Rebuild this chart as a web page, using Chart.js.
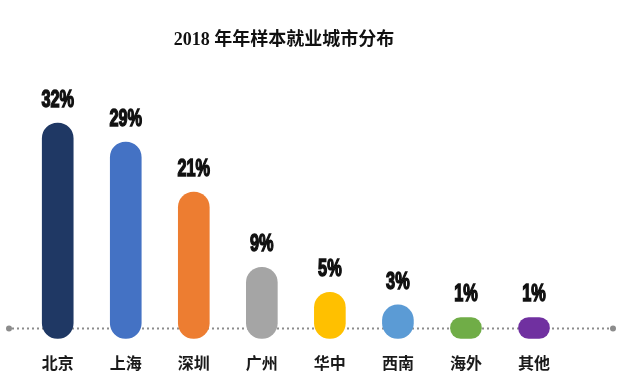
<!DOCTYPE html>
<html>
<head>
<meta charset="utf-8">
<script src="https://cdn.jsdelivr.net/npm/chart.js@4"></script>
<style>
  html, body { margin: 0; padding: 0; background: #ffffff; }
  #wrap { width: 631px; height: 379px; position: relative; }
</style>
</head>
<body>
<div id="wrap"><canvas id="c" width="631" height="379"></canvas></div>
<script>
const chartTitle = '2018 年年样本就业城市分布';
const categories = ['北京', '上海', '深圳', '广州', '华中', '西南', '海外', '其他'];
const shares = [32, 29, 21, 9, 5, 3, 1, 1];
const shareLabels = shares.map(v => v + '%');

const barColors = ['#1f3864', '#4472c4', '#ed7d31', '#a5a5a5', '#ffc000', '#5b9bd5', '#70ad47', '#7030a0'];

const baselinePlugin = {
  id: 'dottedBaseline',
  beforeDatasetsDraw(chart) {
    const ctx = chart.ctx;
    const y = chart.scales.y.getPixelForValue(-0.75);
    ctx.save();
    ctx.strokeStyle = '#8c8c8c';
    ctx.lineWidth = 2;
    ctx.setLineDash([2, 3]);
    ctx.beginPath();
    ctx.moveTo(12, y);
    ctx.lineTo(610, y);
    ctx.stroke();
    ctx.setLineDash([]);
    ctx.fillStyle = '#8c8c8c';
    [9, 613].forEach(x => { ctx.beginPath(); ctx.arc(x, y, 3, 0, Math.PI * 2); ctx.fill(); });
    ctx.restore();
  }
};

const valueLabelPlugin = {
  id: 'valueLabels',
  afterDatasetsDraw(chart) {
    const ctx = chart.ctx;
    const meta = chart.getDatasetMeta(0);
    ctx.save();
    ctx.fillStyle = '#111111';
    ctx.strokeStyle = '#111111';
    ctx.lineWidth = 1.5;
    ctx.textAlign = 'center';
    ctx.textBaseline = 'alphabetic';
    ctx.font = 'bold 24px "Liberation Sans", "DejaVu Sans", sans-serif';
    meta.data.forEach((bar, i) => {
      ctx.save();
      ctx.translate(bar.x, bar.y - 16);
      ctx.scale(0.68, 1);
      ctx.fillText(shareLabels[i], 0, 0);
      ctx.strokeText(shareLabels[i], 0, 0);
      ctx.restore();
    });
    ctx.restore();
  }
};

new Chart(document.getElementById('c'), {
  type: 'bar',
  data: {
    labels: categories,
    datasets: [{
      data: shares,
      base: -2.35,
      backgroundColor: barColors,
      borderWidth: 0,
      borderRadius: 100,
      borderSkipped: false,
      barThickness: 31
    }]
  },
  options: {
    responsive: false,
    animation: false,
    devicePixelRatio: 1,
    layout: { padding: { left: 0, right: 63, top: 0, bottom: 1 } },
    plugins: {
      legend: { display: false },
      tooltip: { enabled: false },
      title: {
        display: true,
        text: chartTitle,
        color: '#111111',
        font: { family: '"Liberation Serif", "Noto Sans CJK SC", serif', size: 18, weight: 'bold' },
        padding: { top: 30, bottom: 7 }
      }
    },
    scales: {
      x: {
        grid: { display: false, drawTicks: false },
        border: { display: false },
        ticks: {
          color: '#1a1a1a',
          padding: 5,
          font: { family: '"Noto Sans CJK SC", sans-serif', size: 16, weight: 'bold' }
        }
      },
      y: {
        min: -4,
        max: 42.3,
        grid: { display: false, drawTicks: false },
        border: { display: false },
        ticks: { display: false },
        afterFit(scale) { scale.width = 23.7; }
      }
    }
  },
  plugins: [baselinePlugin, valueLabelPlugin]
});
</script>
</body>
</html>
